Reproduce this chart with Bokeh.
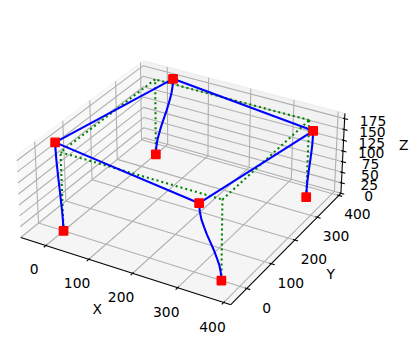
import numpy as np
from bokeh.plotting import figure
from bokeh.models import Range1d
from bokeh.embed import file_html
from bokeh.resources import INLINE
from bokeh.core.properties import value

# ---------------- data ----------------
base_x = [0, 360, 360, 0]
base_y = [0, 0, 360, 360]
base_z = [0, 0, 0, 0]
story_height = 180
top_ux = [-31, -31, 27, 31]
top_uy = [28, -33, -36, 21]
top_uz = [0, 0, 0, 0]
col_levels = [0.0, 0.1, 0.2, 0.3, 0.4, 0.5, 0.6, 0.7, 0.8, 0.9, 1.0]
col_shape = [0.0, 0.03, 0.10, 0.22, 0.35, 0.50, 0.65, 0.78, 0.90, 0.97, 1.0]
beams = [(0, 1), (1, 2), (2, 3), (3, 0)]

x_ticks = [0, 100, 200, 300, 400]
y_ticks = [0, 100, 200, 300, 400]
z_ticks = [0, 25, 50, 75, 100, 125, 150, 175]
x_lim = [-60, 415]
y_lim = [-63, 410]
z_lim = [0, 187]
axis_names = ["X", "Y", "Z"]

# ---------------- view: matplotlib-style 3D projection ----------------
ELEV, AZIM, DIST = 30.0, -60.0, 10.0
DPI = 100.0
AX_PX = 338.0
AX_LEFT, AX_TOP = 10.0, 10.0
W_PX, H_PX = 418, 358
FS = 10 * DPI / 72.0
PT = DPI / 72.0

mins = np.array([x_lim[0], y_lim[0], z_lim[0]], float)
maxs = np.array([x_lim[1], y_lim[1], z_lim[1]], float)
spans = maxs - mins
centers = (mins + maxs) / 2
box = spans * 1.8294640721620434 * 25 / 24 / np.linalg.norm(spans)
el, az = np.radians(ELEV), np.radians(AZIM)
w_vec = np.array([np.cos(el) * np.cos(az), np.cos(el) * np.sin(az), np.sin(el)])
u_vec = np.cross([0.0, 0.0, 1.0], w_vec)
u_vec /= np.linalg.norm(u_vec)
v_vec = np.cross(w_vec, u_vec)


def proj(x, y, z):
    pts = np.stack([np.asarray(x, float), np.asarray(y, float), np.asarray(z, float)], axis=-1)
    d = (pts - mins) / spans * box - box / 2
    U = d @ u_vec
    V = d @ v_vec
    Wd = d @ w_vec
    return U / (DIST - Wd), V / (DIST - Wd)


def proj_line(points):
    pts = np.array(points, float)
    X, Y = proj(pts[:, 0], pts[:, 1], pts[:, 2])
    return list(X), list(Y)


scale = AX_PX / 0.185
x0 = -0.095 - AX_LEFT / scale
y1 = 0.09 + AX_TOP / scale

p = figure(width=W_PX, height=H_PX, output_backend="svg", toolbar_location=None,
           x_range=Range1d(x0, x0 + W_PX / scale), y_range=Range1d(y1 - H_PX / scale, y1),
           x_axis_location=None, y_axis_location=None, min_border=0)
p.grid.visible = False
p.outline_line_color = None
p.background_fill_color = "white"
p.border_fill_color = "white"

xmin, ymin, zmin = mins
xmax, ymax, zmax = maxs

# ---------------- panes ----------------
panes = [
    ([(xmin, ymin, zmin), (xmin, ymax, zmin), (xmin, ymax, zmax), (xmin, ymin, zmax)], (242, 242, 242)),
    ([(xmin, ymax, zmin), (xmax, ymax, zmin), (xmax, ymax, zmax), (xmin, ymax, zmax)], (230, 230, 230)),
    ([(xmin, ymin, zmin), (xmax, ymin, zmin), (xmax, ymax, zmin), (xmin, ymax, zmin)], (236, 236, 236)),
]
for verts, col in panes:
    px_, py_ = proj_line(verts)
    p.patch(px_, py_, fill_color=col, fill_alpha=0.5, line_color=None)
    p.line(px_, py_, line_color=col, line_alpha=0.5, line_width=1.0 * PT)

# ---------------- grid ----------------
gxs, gys = [], []
for t in x_ticks:
    a, b = proj_line([(t, ymin, zmin), (t, ymax, zmin), (t, ymax, zmax)])
    gxs.append(a); gys.append(b)
for t in y_ticks:
    a, b = proj_line([(xmin, t, zmax), (xmin, t, zmin), (xmax, t, zmin)])
    gxs.append(a); gys.append(b)
for t in z_ticks:
    a, b = proj_line([(xmax, ymax, t), (xmin, ymax, t), (xmin, ymin, t)])
    gxs.append(a); gys.append(b)
p.multi_line(gxs, gys, line_color="#b0b0b0", line_width=0.8 * PT)

# ---------------- axis lines, ticks, labels ----------------
deltas = 0.08 * spans
dpp = 48.0 / (72.0 * 2 * AX_PX / DPI)
tl_d = (3.5 + 8.0) * dpp * deltas
al_d = (4.0 + 21.0) * dpp * deltas

axes_lines = [
    [(xmin, ymin, zmin), (xmax, ymin, zmin)],
    [(xmax, ymin, zmin), (xmax, ymax, zmin)],
    [(xmax, ymax, zmin), (xmax, ymax, zmax)],
]
axs, ays = [], []
for seg in axes_lines:
    a, b = proj_line(seg)
    axs.append(a); ays.append(b)
p.multi_line(axs, ays, line_color="black", line_width=0.75 * PT)

txs, tys = [], []
lab_x, lab_y, lab_t = [], [], []
for t in x_ticks:
    a, b = proj_line([(t, ymin + 0.1 * deltas[1], zmin), (t, ymin - 0.2 * deltas[1], zmin)])
    txs.append(a); tys.append(b)
    lx, ly = proj(t, ymin - tl_d[1], zmin - tl_d[2])
    lab_x.append(float(lx)); lab_y.append(float(ly)); lab_t.append(str(t))
for t in y_ticks:
    a, b = proj_line([(xmax - 0.1 * deltas[0], t, zmin), (xmax + 0.2 * deltas[0], t, zmin)])
    txs.append(a); tys.append(b)
    lx, ly = proj(xmax + tl_d[0], t, zmin - tl_d[2])
    lab_x.append(float(lx)); lab_y.append(float(ly)); lab_t.append(str(t))
for t in z_ticks:
    a, b = proj_line([(xmax - 0.1 * deltas[0], ymax, t), (xmax + 0.2 * deltas[0], ymax, t)])
    txs.append(a); tys.append(b)
    lx, ly = proj(xmax + tl_d[0], ymax + tl_d[1], t)
    lab_x.append(float(lx)); lab_y.append(float(ly)); lab_t.append(str(t))
p.multi_line(txs, tys, line_color="black", line_width=0.8 * PT)

p.text(x=lab_x, y=lab_y, text=lab_t, text_font=value("DejaVu Sans"), text_font_size="%.2fpx" % FS,
       text_align="center", text_baseline="alphabetic", y_offset=0.76 * FS - 4.5, text_color="black")

ax_lab_pos = [
    (centers[0], ymin - al_d[1], zmin - al_d[2]),
    (xmax + al_d[0], centers[1], zmin - al_d[2]),
    (xmax + al_d[0], ymax + al_d[1], centers[2]),
]
alx, aly = [], []
for pos in ax_lab_pos:
    a, b = proj(*pos)
    alx.append(float(a)); aly.append(float(b))
p.text(x=alx, y=aly, text=axis_names, text_font=value("DejaVu Sans"), text_font_size="%.2fpx" % FS,
       text_align="center", text_baseline="alphabetic", y_offset=0.26 * FS - 4.5, text_color="black")

# ---------------- structure ----------------
n = len(base_x)
top0 = [(base_x[i], base_y[i], base_z[i] + story_height) for i in range(n)]
top1 = [(base_x[i] + top_ux[i], base_y[i] + top_uy[i], base_z[i] + story_height + top_uz[i]) for i in range(n)]

# undeformed (green dotted)
ux_l, uy_l = [], []
for i in range(n):
    a, b = proj_line([(base_x[i], base_y[i], base_z[i]), top0[i]])
    ux_l.append(a); uy_l.append(b)
for i, j in beams:
    a, b = proj_line([top0[i], top0[j]])
    ux_l.append(a); uy_l.append(b)
p.multi_line(ux_l, uy_l, line_color="#008000", line_width=1.5 * PT, line_dash="2 3")

# deformed (blue)
dx_l, dy_l = [], []
for i in range(n):
    pts = [(base_x[i] + top_ux[i] * s, base_y[i] + top_uy[i] * s,
            base_z[i] + story_height * lv + top_uz[i] * s)
           for lv, s in zip(col_levels, col_shape)]
    a, b = proj_line(pts)
    dx_l.append(a); dy_l.append(b)
for i, j in beams:
    a, b = proj_line([top1[i], top1[j]])
    dx_l.append(a); dy_l.append(b)
p.multi_line(dx_l, dy_l, line_color="#0000ff", line_width=1.5 * PT, line_join="round")

# nodes (red squares)
node_pts = [(base_x[i], base_y[i], base_z[i]) for i in range(n)] + top1
nx, ny = proj_line(node_pts)
p.scatter(nx, ny, marker="square", size=6 * PT, fill_color="#ff0000",
          line_color="#ff0000", line_width=1.0 * PT)

open("out.html", "w").write(file_html(p, INLINE))
